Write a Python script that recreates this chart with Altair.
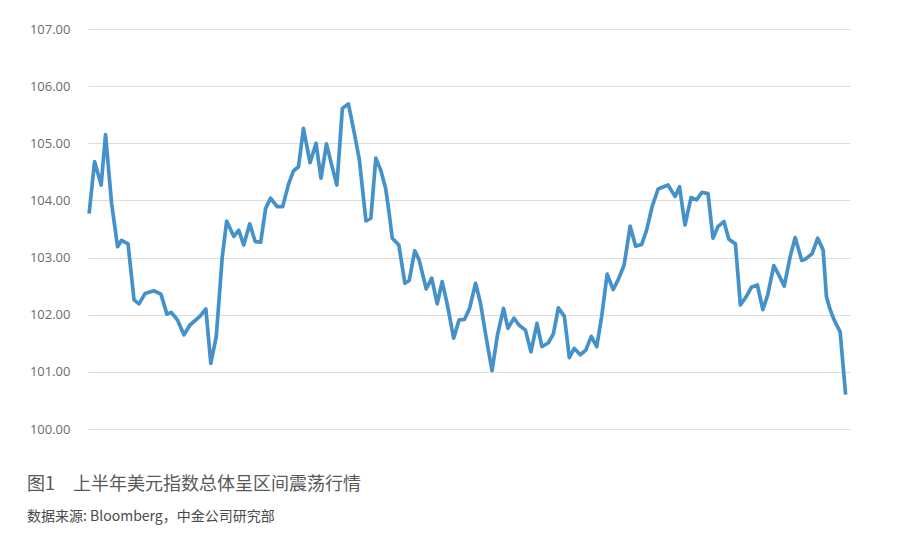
import altair as alt
import pandas as pd

# trading-day position and US dollar index value
day = [0.0, 1.0, 2.2, 3.0, 4.1, 4.6, 5.2, 5.9, 7.1, 8.2, 9.1, 10.2, 11.8, 13.1, 14.2, 15.0,
       16.1, 17.3, 18.4, 20.2, 21.3, 22.2, 23.2, 24.3, 25.1, 26.4, 27.3, 28.2, 29.3, 30.3,
       31.3, 32.2, 33.1, 34.3, 35.3, 36.4, 37.3, 38.2, 39.1, 40.3, 41.4, 42.3, 43.3, 44.2,
       45.2, 46.2, 47.3, 48.4, 49.3, 50.5, 51.4, 52.3, 53.2, 54.1, 54.7, 55.3, 56.5, 57.6,
       58.4, 59.4, 60.2, 61.5, 62.5, 63.5, 64.4, 65.3, 66.5, 67.5, 68.5, 69.4, 70.5, 71.4,
       72.4, 73.5, 74.5, 75.6, 76.4, 77.5, 78.4, 79.6, 80.6, 81.7, 82.6, 83.8, 84.7, 85.6,
       86.7, 87.6, 88.5, 89.6, 90.6, 91.6, 92.6, 93.5, 94.5, 95.6, 96.5, 97.6, 98.7, 99.7,
       100.8, 101.7, 102.7, 103.8, 105.6, 106.9, 107.7, 108.7, 109.8, 110.8, 111.8, 112.9,
       113.8, 114.7, 115.8, 116.7, 117.9, 118.8, 119.9, 120.8, 121.9, 122.9, 123.8, 124.9,
       125.9, 126.8, 127.9, 128.8, 130.0, 130.8, 131.9, 132.9, 133.9, 134.5, 135.1, 135.9,
       137.0, 138.0]
dxy = [103.77, 104.68, 104.27, 105.15, 103.95, 103.60, 103.19, 103.30, 103.24, 102.26,
       102.19, 102.37, 102.42, 102.36, 102.01, 102.04, 101.91, 101.65, 101.82, 101.97,
       102.10, 101.15, 101.62, 103.02, 103.64, 103.37, 103.48, 103.22, 103.59, 103.28,
       103.27, 103.86, 104.04, 103.89, 103.89, 104.29, 104.52, 104.59, 105.26, 104.66,
       105.00, 104.39, 104.99, 104.64, 104.27, 105.61, 105.69, 105.17, 104.71, 103.64,
       103.69, 104.74, 104.53, 104.21, 103.80, 103.34, 103.22, 102.55, 102.60, 103.12,
       102.96, 102.45, 102.64, 102.19, 102.58, 102.20, 101.59, 101.91, 101.92, 102.11,
       102.55, 102.20, 101.62, 101.02, 101.65, 102.11, 101.76, 101.94, 101.82, 101.73,
       101.35, 101.85, 101.44, 101.51, 101.67, 102.12, 101.97, 101.25, 101.41, 101.30,
       101.38, 101.62, 101.44, 101.97, 102.71, 102.44, 102.61, 102.87, 103.55, 103.20,
       103.23, 103.48, 103.89, 104.20, 104.27, 104.07, 104.24, 103.57, 104.05, 104.01,
       104.14, 104.12, 103.34, 103.54, 103.63, 103.32, 103.24, 102.17, 102.32, 102.48,
       102.52, 102.09, 102.35, 102.86, 102.68, 102.50, 103.02, 103.35, 102.95, 102.98,
       103.07, 103.34, 103.13, 102.32, 102.11, 101.91, 101.70, 100.60]

y_ticks = [100, 101, 102, 103, 104, 105, 106, 107]
title_text = "图1　上半年美元指数总体呈区间震荡行情"
source_text = "数据来源: Bloomberg，中金公司研究部"

df = pd.DataFrame({"day": day, "dxy": dxy})

line = alt.Chart(df).mark_line(color="#4592cb", strokeWidth=3.7, strokeJoin="round").encode(
    x=alt.X("day:Q", scale=alt.Scale(domain=[-0.2, 138.8], nice=False, zero=False), axis=None),
    y=alt.Y("dxy:Q", scale=alt.Scale(domain=[100, 107], nice=False, zero=False),
            axis=alt.Axis(values=y_ticks, format=".2f", title=None, domain=False, ticks=False,
                          labelColor="#6b6b6b", labelFontSize=13, labelPadding=18,
                          labelFont="Open Sans", gridColor="#dddddd", gridWidth=1)),
)

title = alt.Chart(pd.DataFrame({"t": [title_text]})).mark_text(
    align="left", baseline="middle", fontSize=18, color="#595959", font="Noto Sans CJK SC"
).encode(text="t:N", x=alt.value(-61), y=alt.value(456))

source = alt.Chart(pd.DataFrame({"t": [source_text]})).mark_text(
    align="left", baseline="middle", fontSize=14, color="#4a4a4a", font="Noto Sans CJK SC"
).encode(text="t:N", x=alt.value(-61), y=alt.value(488))

chart = alt.layer(line, title, source).properties(
    width=762, height=400, autosize="none", background="white",
    padding={"left": 80, "top": 21, "right": 10, "bottom": 110},
).configure_view(stroke=None)

chart.save("out.html", embed_options={"renderer": "svg", "actions": False})
